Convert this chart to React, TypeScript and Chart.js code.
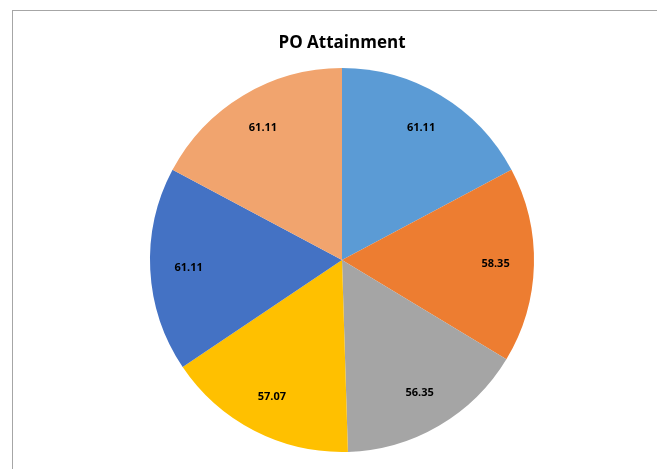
import React, { useEffect, useRef } from "react";
import { Chart, registerables } from "chart.js";

Chart.register(...registerables);

const categories = ["PO1", "PO2", "PO3", "PO4", "PO5", "PO6"];
const values = [61.11, 58.35, 56.35, 57.07, 61.11, 61.11];
const colors = ["#5B9BD5", "#ED7D31", "#A5A5A5", "#FFC000", "#4472C4", "#F1A46E"];
const titleText = "PO Attainment";

const FONT = "'Open Sans', 'Liberation Sans', sans-serif";

const overlayPlugin = {
  id: "overlay",
  afterDatasetsDraw(chart: any) {
    const ctx = chart.ctx;
    const meta = chart.getDatasetMeta(0);
    ctx.save();
    ctx.fillStyle = "#000";
    ctx.font = `bold 11px ${FONT}`;
    ctx.textAlign = "center";
    ctx.textBaseline = "middle";
    meta.data.forEach((arc: any, i: number) => {
      const p = arc.getProps(["x", "y", "startAngle", "endAngle", "outerRadius"], true);
      const mid = (p.startAngle + p.endAngle) / 2;
      const r = p.outerRadius * 0.8;
      ctx.fillText(values[i].toFixed(2), p.x + Math.cos(mid) * r, p.y + Math.sin(mid) * r);
    });
    ctx.font = `bold 17px ${FONT}`;
    ctx.fillText(titleText, (chart.chartArea.left + chart.chartArea.right) / 2, 43);
    ctx.restore();
  },
};

export default function App() {
  const ref = useRef<HTMLCanvasElement>(null);
  useEffect(() => {
    if (!ref.current) return;
    const chart = new Chart(ref.current, {
      type: "pie",
      data: {
        labels: categories,
        datasets: [
          {
            data: values,
            backgroundColor: colors,
            borderWidth: 0,
          },
        ],
      },
      options: {
        animation: false,
        responsive: false,
        maintainAspectRatio: false,
        layout: { padding: { top: 68, bottom: 17, left: 27, right: 0 } },
        plugins: {
          legend: { display: false },
          title: { display: false },
          tooltip: { enabled: false },
        },
      },
      plugins: [overlayPlugin],
    });
    return () => chart.destroy();
  }, []);
  return (
    <div style={{ position: "fixed", left: 0, top: 0, width: 657, height: 469, background: "#fff" }}>
      <div
        style={{
          position: "absolute",
          left: 12,
          top: 10,
          width: 645,
          height: 459,
          borderTop: "1px solid #A6A6A6",
          borderLeft: "1px solid #A6A6A6",
          boxSizing: "border-box",
        }}
      />
      <canvas ref={ref} width={657} height={469} style={{ position: "absolute", left: 0, top: 0 }} />
    </div>
  );
}
